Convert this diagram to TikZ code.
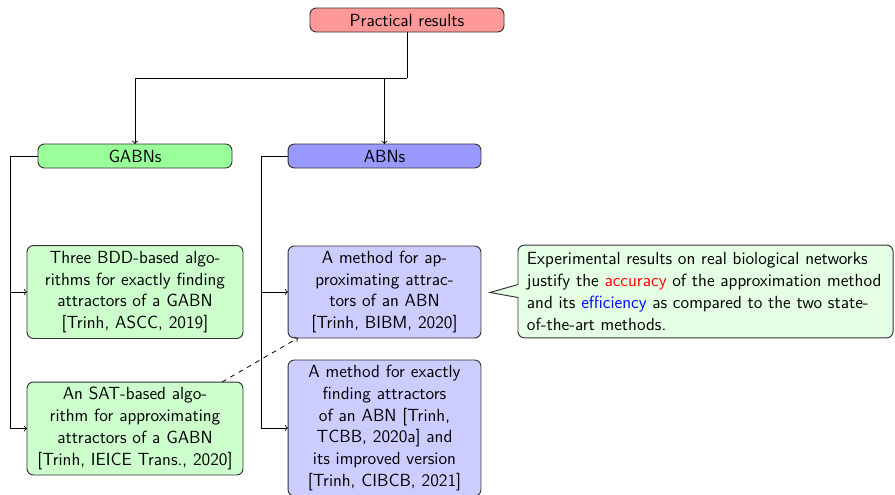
\documentclass[tikz,border=0pt]{standalone}
\usetikzlibrary{calc}
\begin{document}
\begin{tikzpicture}[x=0.625pt,y=-0.625pt,
  font=\sffamily\fontsize{11}{13.6}\selectfont,
  every node/.style={inner sep=0pt, outer sep=0pt},
  base/.style={draw=black!80, semithick, rounded corners=4pt, align=center},
  headbox/.style={base, minimum height=15pt},
  itembox/.style={base, text width=#1, align=center},
  conn/.style={->, line width=0.5pt},
]
\useasboundingbox (0,0) rectangle (895,494);

% top level and the two families
\node[headbox, fill=red!40, minimum width=121.25pt] (top) at (407,20) {Practical results};
\node[headbox, fill=green!40, minimum width=121.25pt] (gabn) at (135,156) {GABNs};
\node[headbox, fill=blue!40, minimum width=120.6pt] (abn) at (384.5,156) {ABNs};

% GABN results
\node[itembox=135pt, fill=green!20, minimum height=58.1pt] (bdd) at (135,292)
  {Three BDD-based algo-\\rithms for exactly finding\\attractors of a GABN\\{[}Trinh, ASCC, 2019{]}};
\node[itembox=135pt, fill=green!20, minimum height=58.1pt] (sat) at (135,428.5)
  {An SAT-based algo-\\rithm for approximating\\attractors of a GABN\\{[}Trinh, IEICE Trans., 2020{]}};

% ABN results
\node[itembox=120.6pt, fill=blue!20, minimum height=57.5pt] (approx) at (384.5,292)
  {A method for ap-\\proximating attrac-\\tors of an ABN\\{[}Trinh, BIBM, 2020{]}};
\node[itembox=120.6pt, fill=blue!20, minimum height=85pt] (exact) at (384.5,428)
  {A method for exactly\\finding attractors\\of an ABN {[}Trinh,\\TCBB, 2020a{]} and\\its improved version\\{[}Trinh, CIBCB, 2021{]}};

% comment box with a pointer to the approximation method
\node[minimum width=234.4pt, minimum height=58pt] (note) at (705.5,291.5) {};
\fill[green!10] ($(note.west)+(0,-7)$) -- ($(note.west)+(-28,1)$) -- ($(note.west)+(0,6)$)
  [rounded corners=4pt] -- (note.south west) -- (note.south east) -- (note.north east) -- (note.north west) [sharp corners] -- cycle;
\draw[draw=black!80, semithick] ($(note.west)+(0,-7)$) -- ($(note.west)+(-28,1)$) -- ($(note.west)+(0,6)$)
  [rounded corners=4pt] -- (note.south west) -- (note.south east) -- (note.north east) -- (note.north west) [sharp corners] -- ($(note.west)+(0,-7)$);
\node[align=left, anchor=west] (notetext) at ($(note.west)+(9,0)$)
  {Experimental results on real biological networks\\justify the \textcolor{red}{accuracy} of the approximation method\\and its \textcolor{blue}{efficiency} as compared to the two state-\\of-the-art methods.};

% connectors
\coordinate (split) at (407,78);
\draw[line width=0.5pt] (top.south) -- (split);
\draw[conn] (split) -| (gabn.north);
\draw[conn] (split) -| (abn.north);

\draw[conn] (gabn.west) -- ++(-28,0) |- (bdd.west);
\draw[conn] (gabn.west) -- ++(-28,0) |- (sat.west);
\draw[conn] (abn.west) -- ++(-27,0) |- (approx.west);
\draw[conn] (abn.west) -- ++(-27,0) |- (exact.west);

\draw[conn, dashed] ($(sat.north east)+(-21,0)$) -- ($(approx.south west)+(10,0)$);
\end{tikzpicture}
\end{document}
